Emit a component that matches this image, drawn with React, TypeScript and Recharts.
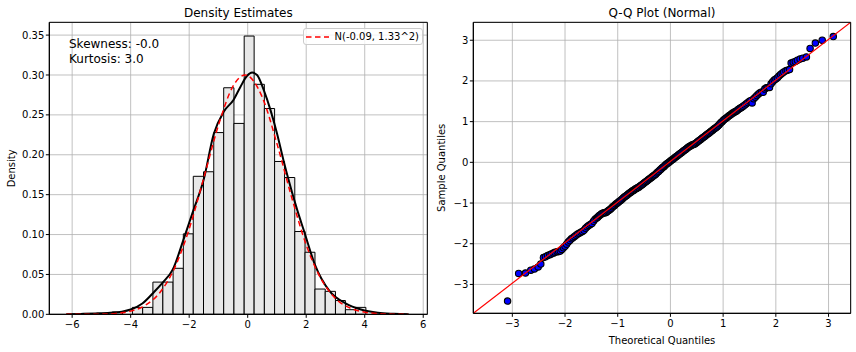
import React from 'react';
import {
  ComposedChart,
  Line,
  Scatter,
  XAxis,
  YAxis,
  CartesianGrid,
  ReferenceArea,
  ReferenceLine,
  Legend,
} from 'recharts';

// histogram (density) of the sample
const binEdges = [
  -4.63, -4.28, -3.94, -3.59, -3.24, -2.9, -2.55, -2.2, -1.86, -1.51, -1.16, -0.82, -0.47,
  -0.12, 0.22, 0.57, 0.92, 1.26, 1.61, 1.96, 2.3, 2.65, 3.0, 3.34, 3.69, 4.04,
];
const binDensity = [
  0.0029, 0, 0.0087, 0.0087, 0.0404, 0.0404, 0.0577, 0.1009, 0.173, 0.1787, 0.2278, 0.284,
  0.2393, 0.3488, 0.2883, 0.258, 0.1916, 0.1715, 0.1038, 0.0778, 0.0317, 0.0288, 0.0173,
  0.0058, 0.0087,
];

// kernel density estimate (black)
const kdeX = [
  -6.2, -5.7, -5.2, -4.7, -4.3, -4.0, -3.6, -3.2, -2.9, -2.55, -2.2, -1.86, -1.51, -1.16, -0.82,
  -0.48, -0.25, -0.02, 0.15, 0.32, 0.55, 0.78, 1.0, 1.23, 1.35, 1.7, 1.92, 2.3, 2.8, 3.36, 3.87,
  4.45, 5.0, 5.5,
];
const kdeY = [
  0.0, 0.0005, 0.0011, 0.002, 0.0033, 0.006, 0.0135, 0.028, 0.04, 0.057, 0.093, 0.13, 0.168,
  0.226, 0.254, 0.269, 0.285, 0.299, 0.303, 0.3, 0.281, 0.256, 0.227, 0.192, 0.175, 0.13, 0.105,
  0.062, 0.029, 0.0134, 0.006, 0.0019, 0.0006, 0.0,
];

// fitted normal curve (red dashed)
const normX = [
  -6.2, -5.5, -5.0, -4.5, -4.0, -3.5, -3.0, -2.5, -2.0, -1.5, -1.0, -0.5, -0.09, 0.5, 1.0, 1.5,
  2.0, 2.5, 3.0, 3.5, 4.0, 4.5, 5.0, 5.48,
];
const normY = [
  0.0, 0.0001, 0.0003, 0.0012, 0.004, 0.0113, 0.0274, 0.058, 0.107, 0.171, 0.237, 0.286, 0.3,
  0.272, 0.214, 0.147, 0.087, 0.045, 0.02, 0.0079, 0.0027, 0.0008, 0.0002, 0.0,
];
const normalLabel = 'N(-0.09, 1.33^2)';
const statLines = ['Skewness: -0.0', 'Kurtosis: 3.0'];

const densityTicks = [0, 0.05, 0.1, 0.15, 0.2, 0.25, 0.3, 0.35];
const valueTicks = [-6, -4, -2, 0, 2, 4, 6];
const qqTicks = [-3, -2, -1, 0, 1, 2, 3];

// Q-Q points
const qqTheoretical = [
  -3.09, -2.88, -2.75, -2.65, -2.58, -2.51, -2.46, -2.41, -2.37, -2.33, -2.29, -2.26, -2.22,
  -2.19, -2.15, -2.12, -2.09, -2.06, -2.03, -2.0, -1.97, -1.94, -1.91, -1.88, -1.85, -1.82,
  -1.79, -1.76, -1.73, -1.7, -1.67, -1.64, -1.61, -1.58, -1.55, -1.52, -1.49, -1.46, -1.43,
  -1.4, -1.38, -1.36, -1.34, -1.32, -1.3, -1.28, -1.26, -1.24, -1.22, -1.2, -1.18, -1.16, -1.14,
  -1.12, -1.1, -1.08, -1.06, -1.04, -1.02, -1.0, -0.98, -0.96, -0.94, -0.92, -0.9, -0.88, -0.86,
  -0.84, -0.82, -0.8, -0.78, -0.76, -0.74, -0.72, -0.7, -0.68, -0.66, -0.64, -0.62, -0.6, -0.58,
  -0.56, -0.54, -0.52, -0.5, -0.48, -0.46, -0.44, -0.42, -0.4, -0.38, -0.36, -0.34, -0.32, -0.3,
  -0.28, -0.26, -0.24, -0.22, -0.2, -0.18, -0.16, -0.14, -0.12, -0.1, -0.08, -0.06, -0.04, -0.02,
  0.0, 0.02, 0.04, 0.06, 0.08, 0.1, 0.12, 0.14, 0.16, 0.18, 0.2, 0.22, 0.24, 0.26, 0.28, 0.3,
  0.32, 0.34, 0.36, 0.38, 0.4, 0.42, 0.44, 0.46, 0.48, 0.5, 0.52, 0.54, 0.56, 0.58, 0.6, 0.62,
  0.64, 0.66, 0.68, 0.7, 0.72, 0.74, 0.76, 0.78, 0.8, 0.82, 0.84, 0.86, 0.88, 0.9, 0.92, 0.94,
  0.96, 0.98, 1.0, 1.02, 1.04, 1.06, 1.08, 1.1, 1.12, 1.14, 1.16, 1.18, 1.2, 1.22, 1.24, 1.26,
  1.28, 1.3, 1.32, 1.34, 1.36, 1.38, 1.41, 1.44, 1.47, 1.5, 1.53, 1.55, 1.58, 1.61, 1.64, 1.67,
  1.7, 1.73, 1.76, 1.79, 1.82, 1.85, 1.88, 1.91, 1.94, 1.97, 2.0, 2.03, 2.06, 2.09, 2.12, 2.15,
  2.19, 2.22, 2.26, 2.29, 2.33, 2.37, 2.41, 2.46, 2.51, 2.58, 2.65, 2.75, 2.88, 3.09,
];
const qqSample = [
  -3.41, -2.73, -2.72, -2.65, -2.62, -2.57, -2.5, -2.34, -2.32, -2.29, -2.27, -2.25, -2.23,
  -2.21, -2.2, -2.19, -2.18, -2.14, -2.1, -2.06, -2.01, -1.96, -1.92, -1.88, -1.85, -1.82,
  -1.79, -1.76, -1.74, -1.72, -1.7, -1.67, -1.62, -1.58, -1.55, -1.53, -1.5, -1.45, -1.4,
  -1.37, -1.35, -1.32, -1.3, -1.28, -1.26, -1.25, -1.24, -1.24, -1.23, -1.21, -1.19, -1.17, -1.15,
  -1.13, -1.1, -1.08, -1.06, -1.03, -1.01, -0.99, -0.97, -0.95, -0.93, -0.91, -0.88, -0.86, -0.84,
  -0.82, -0.8, -0.78, -0.76, -0.74, -0.72, -0.7, -0.69, -0.67, -0.65, -0.64, -0.62, -0.61, -0.59,
  -0.57, -0.55, -0.53, -0.51, -0.49, -0.47, -0.45, -0.43, -0.41, -0.39, -0.37, -0.35, -0.33, -0.31,
  -0.29, -0.26, -0.24, -0.22, -0.19, -0.17, -0.14, -0.12, -0.1, -0.07, -0.05, -0.03, -0.01, 0.01,
  0.03, 0.05, 0.07, 0.09, 0.11, 0.13, 0.15, 0.17, 0.19, 0.21, 0.23, 0.25, 0.27, 0.29, 0.31, 0.33,
  0.35, 0.37, 0.39, 0.4, 0.42, 0.43, 0.44, 0.45, 0.47, 0.49, 0.51, 0.53, 0.55, 0.57, 0.59, 0.61,
  0.63, 0.65, 0.67, 0.69, 0.71, 0.73, 0.75, 0.77, 0.79, 0.81, 0.83, 0.85, 0.87, 0.89, 0.92, 0.95,
  0.98, 1.0, 1.03, 1.05, 1.07, 1.09, 1.11, 1.13, 1.15, 1.17, 1.19, 1.21, 1.22, 1.24, 1.25, 1.27,
  1.29, 1.31, 1.33, 1.34, 1.36, 1.38, 1.41, 1.44, 1.47, 1.5, 1.52, 1.46, 1.56, 1.6, 1.64, 1.68,
  1.71, 1.73, 1.72, 1.8, 1.83, 1.84, 1.84, 1.93, 1.98, 2.02, 2.05, 2.08, 2.12, 2.16, 2.19, 2.22,
  2.25, 2.26, 2.28, 2.44, 2.46, 2.48, 2.51, 2.54, 2.56, 2.59, 2.8, 2.93, 3.0, 3.09,
];
// reference line end points
const qqLineX = [-3.74, 3.42];
const qqLineY = [-3.71, 3.44];

const FONT = '"DejaVu Sans", sans-serif';
const GRID = '#b0b0b0';

const minus = (v: number) => (v < 0 ? `\u2212${Math.abs(v)}` : `${v}`);

const kdeData = kdeX.map((x, i) => ({ x, y: kdeY[i] }));
const normData = normX.map((x, i) => ({ x, y: normY[i] }));
const qqData = qqTheoretical.map((x, i) => ({ x, y: qqSample[i] }));

const tickStyle = { fill: '#000', fontSize: 10 };

const Dot = (props: any) => (
  <circle cx={props.cx} cy={props.cy} r={3.2} fill="#0000ff" stroke="#000" strokeWidth={1.1} />
);

const LegendBox = () => (
  <div
    style={{
      boxSizing: 'border-box',
      width: 120,
      height: 17,
      border: '1px solid #cccccc',
      borderRadius: 3,
      background: 'rgba(255,255,255,0.8)',
      display: 'flex',
      alignItems: 'center',
      fontSize: 10,
      fontFamily: FONT,
      color: '#000',
    }}
  >
    <svg width={31} height={15} style={{ flex: 'none' }}>
      <line x1={2} y1={8} x2={25} y2={8} stroke="#ff0000" strokeWidth={1.5} strokeDasharray="5.5 3.5" />
    </svg>
    <span>{normalLabel}</span>
  </div>
);

function DensityPanel() {
  return (
    <ComposedChart
      width={430}
      height={352}
      margin={{ top: 22.33, right: 2.67, bottom: 0, left: 0 }}
    >
      <CartesianGrid stroke={GRID} strokeWidth={0.8} />
      <XAxis
        type="number"
        dataKey="x"
        domain={[-6.78, 6.14]}
        allowDataOverflow
        ticks={valueTicks}
        interval={0}
        tickFormatter={minus}
        tick={tickStyle}
        tickSize={3.5}
        tickMargin={3.5}
        tickLine={{ stroke: '#000' }}
        axisLine={{ stroke: '#000' }}
        height={37.67}
      />
      <YAxis
        type="number"
        domain={[0, 0.366]}
        allowDataOverflow
        ticks={densityTicks}
        interval={0}
        tickFormatter={(v: number) => v.toFixed(2)}
        tick={tickStyle}
        tickSize={3.5}
        tickMargin={1.5}
        tickLine={{ stroke: '#000' }}
        axisLine={{ stroke: '#000' }}
        width={49.33}
        label={{
          value: 'Density',
          angle: -90,
          position: 'insideLeft',
          offset: 11,
          style: { textAnchor: 'middle', fill: '#000', fontSize: 10 },
        }}
      />
      {binDensity.map((d, i) => (
        <ReferenceArea
          key={i}
          x1={binEdges[i]}
          x2={binEdges[i + 1]}
          y1={0}
          y2={d}
          fill="#e8e8e8"
          fillOpacity={1}
          stroke="#000"
          strokeWidth={1}
          ifOverflow="visible"
        />
      ))}
      <Line
        data={kdeData}
        dataKey="y"
        type="monotone"
        stroke="#000"
        strokeWidth={2}
        dot={false}
        legendType="none"
        isAnimationActive={false}
      />
      <Line
        data={normData}
        dataKey="y"
        name={normalLabel}
        type="monotone"
        stroke="#ff0000"
        strokeWidth={1.5}
        strokeDasharray="5.5 3.5"
        dot={false}
        isAnimationActive={false}
      />
      <ReferenceArea
        x1={-6.78}
        x2={6.14}
        y1={0}
        y2={0.366}
        fill="none"
        stroke="#000"
        strokeWidth={1}
        ifOverflow="visible"
      />
      <Legend
        layout="vertical"
        verticalAlign="middle"
        align="center"
        wrapperStyle={{ left: 302.5, top: 28, width: 120 }}
        content={() => <LegendBox />}
      />
    </ComposedChart>
  );
}

function QQPanel() {
  return (
    <ComposedChart
      width={426}
      height={352}
      margin={{ top: 22.33, right: 5.33, bottom: 0, left: 0 }}
    >
      <CartesianGrid stroke={GRID} strokeWidth={0.8} />
      <XAxis
        type="number"
        dataKey="x"
        domain={[-3.74, 3.42]}
        allowDataOverflow
        ticks={qqTicks}
        interval={0}
        tickFormatter={minus}
        tick={tickStyle}
        tickSize={3.5}
        tickMargin={3.5}
        tickLine={{ stroke: '#000' }}
        axisLine={{ stroke: '#000' }}
        height={38.67}
        label={{
          value: 'Theoretical Quantiles',
          position: 'insideBottom',
          offset: 8.5,
          style: { fill: '#000', fontSize: 10 },
        }}
      />
      <YAxis
        type="number"
        dataKey="y"
        domain={[-3.71, 3.44]}
        allowDataOverflow
        ticks={qqTicks}
        interval={0}
        tickFormatter={minus}
        tick={tickStyle}
        tickSize={3.5}
        tickMargin={1.5}
        tickLine={{ stroke: '#000' }}
        axisLine={{ stroke: '#000' }}
        width={43.33}
        label={{
          value: 'Sample Quantiles',
          angle: -90,
          position: 'insideLeft',
          offset: 11.7,
          style: { textAnchor: 'middle', fill: '#000', fontSize: 10 },
        }}
      />
      <Scatter data={qqData} shape={Dot} isAnimationActive={false} />
      <ReferenceLine
        segment={[
          { x: qqLineX[0], y: qqLineY[0] },
          { x: qqLineX[1], y: qqLineY[1] },
        ]}
        stroke="#ff0000"
        strokeWidth={1.2}
        ifOverflow="hidden"
        zIndex={700}
      />
      <ReferenceArea
        x1={-3.74}
        x2={3.42}
        y1={-3.71}
        y2={3.44}
        fill="none"
        stroke="#000"
        strokeWidth={1}
        ifOverflow="visible"
        zIndex={700}
      />
    </ComposedChart>
  );
}

const titleStyle: React.CSSProperties = {
  position: 'absolute',
  top: 5.5,
  fontSize: 12,
  lineHeight: '14px',
  textAlign: 'center',
  whiteSpace: 'nowrap',
};

export default function App() {
  return (
    <div
      style={{
        position: 'absolute',
        left: 0,
        top: 0,
        width: 856,
        height: 352,
        background: '#fff',
        fontFamily: FONT,
        color: '#000',
        overflow: 'hidden',
      }}
    >
      <div style={{ position: 'absolute', left: 0, top: 0 }}>
        <DensityPanel />
      </div>
      <div style={{ position: 'absolute', left: 430, top: 0 }}>
        <QQPanel />
      </div>
      <div style={{ ...titleStyle, left: 49.33, width: 378 }}>Density Estimates</div>
      <div style={{ ...titleStyle, left: 473.33, width: 377.33 }}>Q-Q Plot (Normal)</div>
      <div
        style={{
          position: 'absolute',
          left: 69,
          top: 36.7,
          fontSize: 12,
          lineHeight: '15px',
          whiteSpace: 'nowrap',
        }}
      >
        {statLines.map((s) => (
          <div key={s}>{s}</div>
        ))}
      </div>
    </div>
  );
}
